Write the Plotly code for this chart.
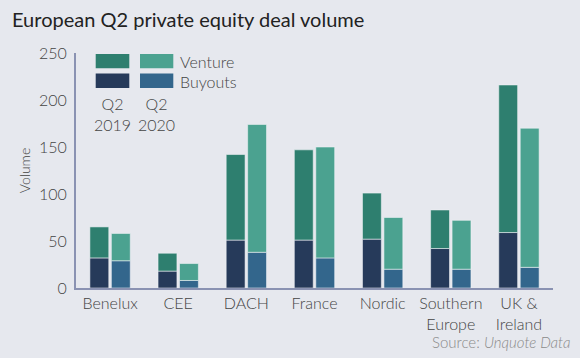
import plotly.graph_objects as go

categories = ["Benelux", "CEE", "DACH", "France", "Nordic", "Southern<br>Europe", "UK &<br>Ireland"]
buyouts_2019 = [32, 18, 51, 51, 52, 42, 59]
venture_2019 = [33, 19, 91, 96, 49, 41, 157]
buyouts_2020 = [29, 8, 38, 32, 20, 20, 22]
venture_2020 = [29, 18, 136, 118, 55, 52, 148]
y_ticks = [0, 50, 100, 150, 200, 250]

C_V19 = "#2e7f6f"
C_V20 = "#4ba290"
C_B19 = "#263a5a"
C_B20 = "#33668c"
BG = "#e6e8ee"
AXIS = "#8a92b2"
FONT = "Lato, 'Open Sans', sans-serif"
LIGHT = 300

L, R, T, B = 76, 27, 53, 70
W, H = 580, 358
PW = W - L - R
PH = H - T - B


def px(x):
    return (x - L) / PW


def py(y):
    return (H - B - y) / PH


edge = dict(color="rgba(240,242,246,0.8)", width=0.7)

fig = go.Figure()
fig.add_trace(go.Bar(x=categories, y=buyouts_2019, name="Buyouts Q2 2019",
                     offsetgroup="2019", marker=dict(color=C_B19, line=edge)))
fig.add_trace(go.Bar(x=categories, y=venture_2019, base=buyouts_2019, name="Venture Q2 2019",
                     offsetgroup="2019", marker=dict(color=C_V19, line=edge)))
fig.add_trace(go.Bar(x=categories, y=buyouts_2020, name="Buyouts Q2 2020",
                     offsetgroup="2020", marker=dict(color=C_B20, line=edge)))
fig.add_trace(go.Bar(x=categories, y=venture_2020, base=buyouts_2020, name="Venture Q2 2020",
                     offsetgroup="2020", marker=dict(color=C_V20, line=edge)))

# custom legend swatches
shapes = []
sw = [(95.7, 54, 129.3, 68.3, C_V19), (140, 54, 173.3, 68.3, C_V20),
      (95.7, 73.5, 129.3, 88, C_B19), (140, 73.5, 173.3, 88, C_B20)]
for x0, y0, x1, y1, c in sw:
    shapes.append(dict(type="rect", xref="paper", yref="paper",
                       x0=px(x0), x1=px(x1), y0=py(y1), y1=py(y0),
                       fillcolor=c, line=dict(width=0), layer="above"))

annotations = [
    dict(text="Venture", x=px(178), y=py(61.5), xanchor="left", yanchor="middle"),
    dict(text="Buyouts", x=px(178), y=py(81.5), xanchor="left", yanchor="middle"),
    dict(text="Q2<br>2019", x=px(112.5), y=py(113.5), xanchor="center", yanchor="middle"),
    dict(text="Q2<br>2020", x=px(156.7), y=py(113.5), xanchor="center", yanchor="middle"),
]
for a in annotations:
    a.update(xref="paper", yref="paper", showarrow=False,
             font=dict(family=FONT, size=16, color="#444", weight=LIGHT))
annotations.append(dict(text="Source: <i>Unquote Data</i>", xref="paper", yref="paper",
                        x=px(430), y=py(342), xanchor="left", yanchor="middle",
                        showarrow=False,
                        font=dict(family=FONT, size=15, color="#8a8a8a", weight=LIGHT)))

fig.update_layout(
    width=W, height=H,
    margin=dict(l=L, r=R, t=T, b=B, pad=0),
    paper_bgcolor=BG, plot_bgcolor=BG,
    barmode="group", bargap=0.37, bargroupgap=0.12,
    showlegend=False,
    title=dict(text="European Q2 private equity deal volume",
               x=12 / W, xanchor="left", xref="container",
               y=1 - 20 / H, yanchor="middle", yref="container",
               font=dict(family=FONT, size=20, color="#222", weight=400)),
    font=dict(family=FONT, size=16, color="#444", weight=LIGHT),
    shapes=shapes, annotations=annotations,
)
fig.update_yaxes(range=[0, 250], tickvals=y_ticks, showgrid=False, zeroline=False,
                 showline=True, linecolor=AXIS, linewidth=2, ticks="",
                 ticklabelstandoff=4,
                 tickfont=dict(family=FONT, size=16, color="#444", weight=LIGHT),
                 title=dict(text="Volume", standoff=5,
                            font=dict(family=FONT, size=14, color="#444", weight=LIGHT)))
fig.update_xaxes(showgrid=False, showline=True, linecolor=AXIS, linewidth=2, ticks="",
                 tickfont=dict(family=FONT, size=16, color="#444", weight=LIGHT))

fig.write_html("out.html", config={"displayModeBar": False},
               post_script="document.body.style.margin='0';")
